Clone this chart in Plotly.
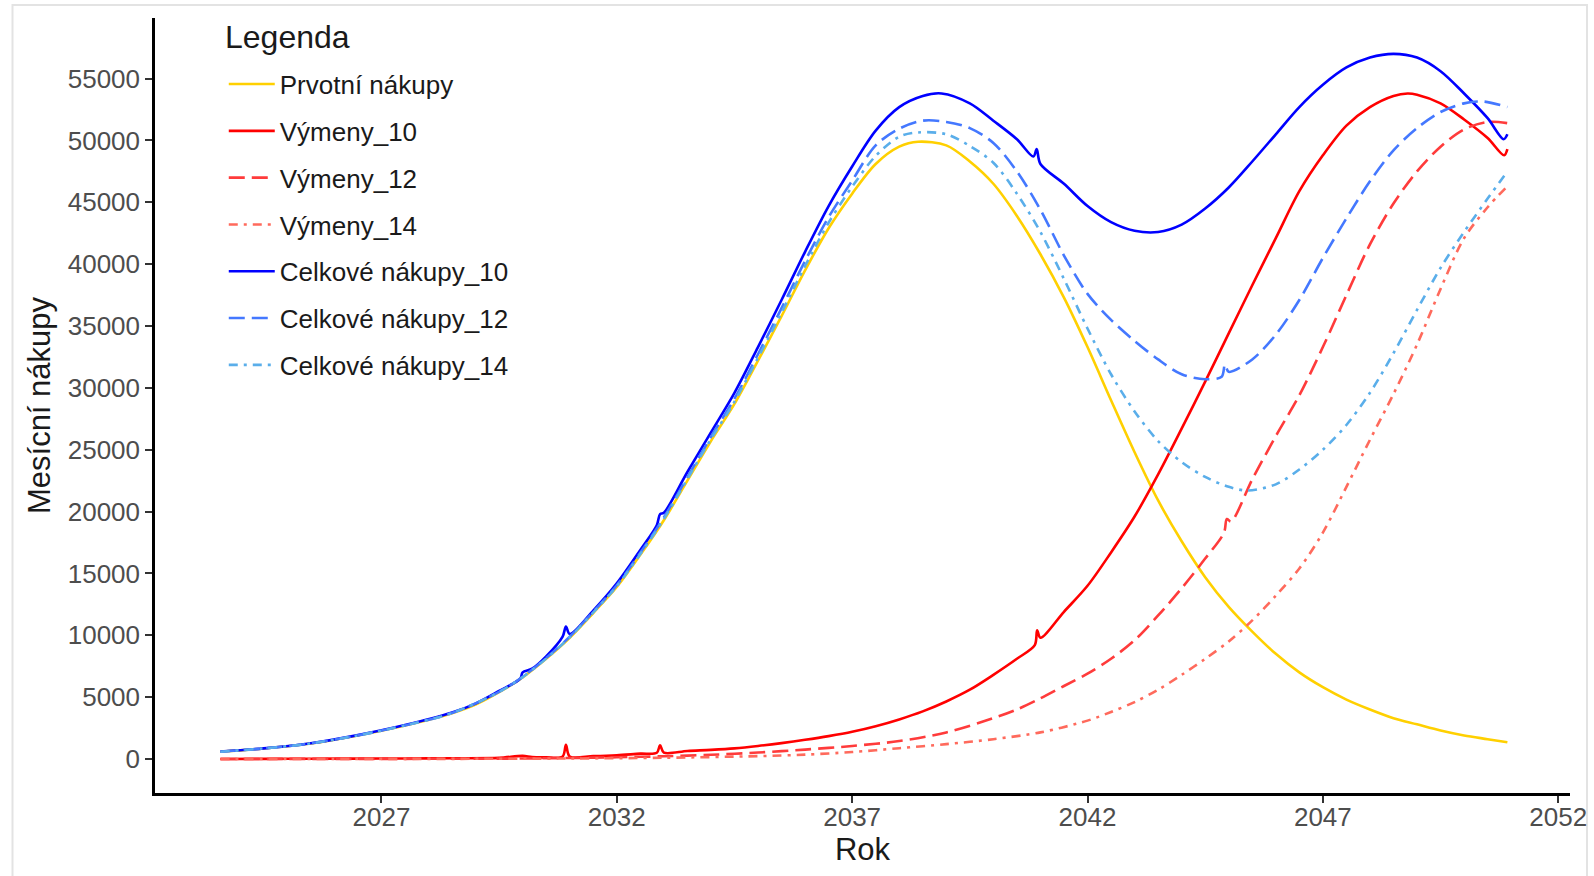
import plotly.graph_objects as go

# ---------------- data ----------------
prvotni_x = [2023.58, 2024.5, 2025.5, 2026.5, 2027.5, 2028.5, 2029.0, 2029.5, 2030.0, 2030.5,
             2031.0, 2031.5, 2032.0, 2032.5, 2033.0, 2033.5, 2034.0, 2034.5, 2035.0, 2035.5,
             2036.0, 2036.5, 2037.0, 2037.5, 2038.0, 2038.4, 2039.0, 2039.5, 2040.0, 2040.5,
             2041.0, 2041.5, 2042.0, 2042.5, 2043.0, 2043.5, 2044.0, 2044.5, 2045.0, 2045.5,
             2046.0, 2046.5, 2047.0, 2047.5, 2048.0, 2048.5, 2049.0, 2049.5, 2050.0, 2050.5, 2050.92]
prvotni_y = [590, 850, 1250, 1900, 2700, 3700, 4400, 5400, 6600, 8100,
             9800, 11800, 13900, 16500, 19300, 22500, 25700, 28700, 32200, 35800,
             39500, 42900, 45700, 48100, 49500, 49900, 49600, 48300, 46500, 43900,
             40800, 37300, 33300, 29000, 24800, 20900, 17600, 14700, 12300, 10300,
             8500, 7000, 5800, 4800, 4000, 3300, 2800, 2300, 1900, 1600, 1350]

vym10_x = [2023.58, 2024.5, 2025.5, 2026.5, 2027.5, 2028.5, 2029.5, 2030.0, 2030.2, 2030.5,
           2030.85, 2030.92, 2031.0, 2031.5, 2032.0, 2032.5, 2032.85, 2032.92, 2033.0, 2033.5,
           2034.0, 2034.5, 2035.0, 2035.5, 2036.0, 2036.5, 2037.0, 2037.5, 2038.0, 2038.5,
           2039.0, 2039.5, 2040.0, 2040.5, 2040.88, 2040.93, 2041.0, 2041.5, 2042.0, 2042.5,
           2043.0, 2043.5, 2044.0, 2044.5, 2045.0, 2045.5, 2046.0, 2046.5, 2047.0, 2047.5,
           2048.0, 2048.5, 2048.8, 2049.0, 2049.5, 2050.0, 2050.5, 2050.85, 2050.92]
vym10_y = [0, 10, 20, 30, 40, 60, 90, 250, 150, 130,
           200, 1150, 200, 230, 300, 430, 500, 1100, 520, 650,
           740, 860, 1050, 1280, 1550, 1850, 2200, 2650, 3200, 3850,
           4650, 5600, 6800, 8100, 9200, 10400, 9800, 11900, 14000, 16700,
           19600, 23000, 26700, 30500, 34400, 38300, 42100, 45900, 48800, 51200,
           52700, 53600, 53800, 53700, 53000, 51700, 50200, 48800, 49300]

vym12_x = [2023.58, 2025.0, 2027.0, 2029.0, 2030.0, 2031.0, 2032.0, 2033.0, 2034.0, 2035.0,
           2036.0, 2037.0, 2038.0, 2039.0, 2040.0, 2040.5, 2041.0, 2041.5, 2042.0, 2042.5,
           2043.0, 2043.5, 2044.0, 2044.5, 2044.9, 2044.96, 2045.05, 2045.5, 2046.0, 2046.5,
           2047.0, 2047.5, 2048.0, 2048.5, 2049.0, 2049.5, 2050.0, 2050.5, 2050.92]
vym12_y = [0, 5, 10, 20, 40, 80, 140, 220, 340, 520,
           760, 1050, 1450, 2150, 3300, 4000, 4900, 5900, 6900, 8100,
           9600, 11600, 13800, 16200, 18300, 19400, 19200, 22600, 26100, 29400,
           33300, 37500, 41600, 44900, 47500, 49500, 50900, 51500, 51400]

vym14_x = [2023.58, 2026.0, 2029.0, 2031.0, 2033.0, 2035.0, 2036.0, 2037.0, 2038.0, 2039.0,
           2040.0, 2041.0, 2042.0, 2042.5, 2043.0, 2043.5, 2044.0, 2044.5, 2045.0, 2045.5,
           2046.0, 2046.5, 2047.0, 2047.5, 2048.0, 2048.5, 2049.0, 2049.5, 2050.0, 2050.5, 2050.92]
vym14_y = [0, 5, 15, 40, 100, 230, 350, 560, 870, 1200,
           1600, 2150, 3100, 3800, 4600, 5600, 6800, 8100, 9500, 11200,
           13200, 15400, 18300, 22000, 25800, 29500, 33500, 38000, 42100, 44600, 46300]

celk10_x = [2023.58, 2024.5, 2025.5, 2026.5, 2027.5, 2028.5, 2029.0, 2029.5, 2029.95, 2030.0,
            2030.2, 2030.5, 2030.85, 2030.92, 2031.0, 2031.5, 2032.0, 2032.5, 2032.85, 2032.92,
            2033.0, 2033.5, 2034.0, 2034.5, 2035.0, 2035.5, 2036.0, 2036.5, 2037.0, 2037.5,
            2038.0, 2038.5, 2038.9, 2039.5, 2040.0, 2040.5, 2040.85, 2040.92, 2041.0, 2041.5,
            2042.0, 2042.5, 2043.0, 2043.5, 2044.0, 2044.5, 2045.0, 2045.5, 2046.0, 2046.5,
            2047.0, 2047.5, 2048.0, 2048.5, 2049.0, 2049.5, 2050.0, 2050.5, 2050.84, 2050.92]
celk10_y = [600, 860, 1270, 1930, 2740, 3760, 4480, 5500, 6500, 7000,
            7300, 8300, 9900, 10700, 10100, 12000, 14200, 16900, 18900, 19800,
            19900, 23200, 26400, 29600, 33300, 37100, 41000, 44700, 47900, 50800,
            52700, 53600, 53800, 53000, 51600, 50100, 48700, 49300, 48100, 46500,
            44700, 43400, 42700, 42600, 43200, 44500, 46200, 48300, 50500, 52700,
            54500, 55900, 56700, 57000, 56700, 55600, 53800, 51800, 50100, 50500]

celk12_x = [2023.58, 2024.5, 2025.5, 2026.5, 2027.5, 2028.5, 2029.5, 2030.0, 2030.5, 2031.0,
            2031.5, 2032.0, 2032.5, 2033.0, 2033.5, 2034.0, 2034.5, 2035.0, 2035.5, 2036.0,
            2036.5, 2037.0, 2037.5, 2038.0, 2038.5, 2039.0, 2039.5, 2040.0, 2040.5, 2041.0,
            2041.5, 2042.0, 2042.5, 2043.0, 2043.5, 2044.0, 2044.5, 2044.85, 2044.92, 2045.0,
            2045.5, 2046.0, 2046.5, 2047.0, 2047.5, 2048.0, 2048.5, 2049.0, 2049.5, 2050.0,
            2050.4, 2050.92]
celk12_y = [590, 855, 1260, 1910, 2715, 3720, 5420, 6640, 8160, 9880,
            11900, 14040, 16670, 19520, 22780, 26040, 29130, 32720, 36440, 40260,
            43800, 46750, 49600, 50950, 51600, 51500, 51000, 49800, 47500, 44400,
            40700, 37600, 35500, 33800, 32300, 31100, 30700, 30900, 31900, 31300,
            32300, 34300, 37100, 40500, 43700, 46700, 49200, 51000, 52300, 53000,
            53150, 52700]

celk14_x = [2023.58, 2024.5, 2025.5, 2026.5, 2027.5, 2028.5, 2029.5, 2030.0, 2030.5, 2031.0,
            2031.5, 2032.0, 2032.5, 2033.0, 2033.5, 2034.0, 2034.5, 2035.0, 2035.5, 2036.0,
            2036.5, 2037.0, 2037.5, 2038.0, 2038.4, 2039.0, 2039.5, 2040.0, 2040.5, 2041.0,
            2041.5, 2042.0, 2042.5, 2043.0, 2043.5, 2044.0, 2044.5, 2045.0, 2045.4, 2046.0,
            2046.5, 2047.0, 2047.5, 2048.0, 2048.5, 2049.0, 2049.5, 2050.0, 2050.5, 2050.92]
celk14_y = [590, 852, 1254, 1906, 2710, 3714, 5420, 6620, 8125, 9840,
            11850, 13970, 16570, 19400, 22630, 25860, 28890, 32430, 36080, 39850,
            43350, 46260, 48750, 50300, 50650, 50500, 49550, 48200, 45700, 42600,
            38800, 34800, 31100, 28100, 25700, 24000, 22800, 22000, 21700, 22200,
            23400, 25000, 27000, 29600, 32800, 36300, 39700, 42600, 45300, 47500]

x_ticks = [2027, 2032, 2037, 2042, 2047, 2052]
y_ticks = [0, 5000, 10000, 15000, 20000, 25000, 30000, 35000, 40000, 45000, 50000, 55000]

series = [
    ("Prvotní nákupy", prvotni_x, prvotni_y, "#FFD000", "solid"),
    ("Výmeny_10", vym10_x, vym10_y, "#FF0000", "solid"),
    ("Výmeny_12", vym12_x, vym12_y, "#FF3B3B", "16px,7px"),
    ("Výmeny_14", vym14_x, vym14_y, "#FF6A5C", "9px,6px,3px,6px"),
    ("Celkové nákupy_10", celk10_x, celk10_y, "#0000FF", "solid"),
    ("Celkové nákupy_12", celk12_x, celk12_y, "#4478FF", "16px,7px"),
    ("Celkové nákupy_14", celk14_x, celk14_y, "#5AAEEA", "9px,6px,3px,6px"),
]

FONT = "Liberation Sans, Arial, sans-serif"

fig = go.Figure()
for name, xs, ys, col, dash in series:
    fig.add_trace(go.Scatter(
        x=xs, y=ys, name=name, mode="lines", legendgroup=name,
        line=dict(color=col, width=2.6, dash=dash, shape="spline", smoothing=0.9),
    ))

fig.update_layout(
    width=1594, height=876,
    paper_bgcolor="white", plot_bgcolor="white",
    margin=dict(l=155, r=24, t=18, b=83, autoexpand=False),
    font=dict(family=FONT, size=26, color="#1a1a1a"),
    showlegend=True,
    legend=dict(
        x=0.0486, y=0.945, xanchor="left", yanchor="top",
        bgcolor="rgba(0,0,0,0)", font=dict(size=26, color="#1a1a1a"),
        tracegroupgap=10, itemwidth=46,
    ),
    annotations=[dict(text="Legenda", xref="paper", yref="paper",
                      x=0.0482, y=0.976, xanchor="left", yanchor="middle",
                      showarrow=False, font=dict(size=32, color="#1a1a1a"))],
    xaxis=dict(
        range=[2022.19, 2052.25], tickvals=x_ticks, ticktext=[str(v) for v in x_ticks],
        showgrid=False, zeroline=False, showline=True, linecolor="black", linewidth=2.5,
        ticks="outside", ticklen=7, tickwidth=2, tickcolor="#333333",
        tickfont=dict(size=26, color="#4D4D4D"), ticklabelstandoff=-8,
        title=dict(text="Rok", font=dict(size=31, color="#1a1a1a"), standoff=4),
    ),
    yaxis=dict(
        range=[-2750, 59900], tickvals=y_ticks, ticktext=[str(v) for v in y_ticks],
        showgrid=False, zeroline=False, showline=True, linecolor="black", linewidth=2.5,
        ticks="outside", ticklen=7, tickwidth=2, tickcolor="#333333",
        tickfont=dict(size=26, color="#4D4D4D"),
        title=dict(text="Mesícní nákupy", font=dict(size=31, color="#1a1a1a"), standoff=8),
    ),
    shapes=[dict(type="rect", xref="paper", yref="paper",
                 x0=-0.1007, x1=1.012, y0=-0.15, y1=1.0168,
                 line=dict(color="#E3E3E3", width=2), layer="below")],
)

fig.write_html("out.html", config={"displayModeBar": False},
               post_script="document.body.style.margin='0px';")
